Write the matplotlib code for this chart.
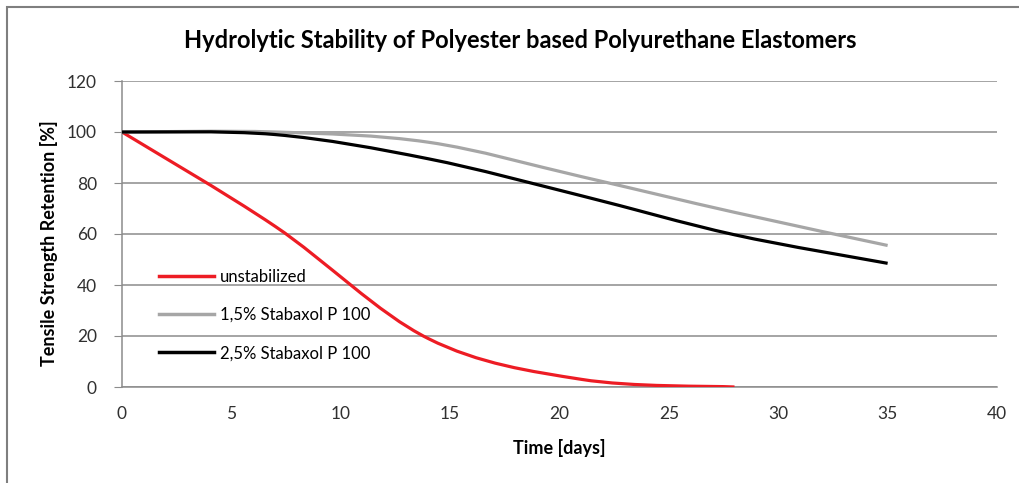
import numpy as np
import matplotlib
matplotlib.use("Agg")
import matplotlib.pyplot as plt
from matplotlib.path import Path
from matplotlib.patches import PathPatch, Rectangle
from matplotlib.lines import Line2D

plt.rcParams['font.family'] = ['Lato', 'DejaVu Sans']

# data
days = [0, 7, 14, 21, 28, 35]
days_red = [0, 7, 14, 21, 28]
unstabilized = [100, 63, 19, 3, 0]
stab_15 = [100, 100, 96, 82.5, 68.5, 55.5]
stab_25 = [100, 99, 89.5, 75, 59.7, 48.5]

labels = ["unstabilized", "1,5% Stabaxol P 100", "2,5% Stabaxol P 100"]
colors = ["#ED1C24", "#A6A6A6", "#000000"]


def smooth_path(x, y):
    # Excel-like smoothed line: cubic bezier through the points
    x = np.asarray(x, float)
    y = np.asarray(y, float)
    n = len(x)
    verts = [(x[0], y[0])]
    codes = [Path.MOVETO]
    for i in range(n - 1):
        p0 = np.array([x[max(i - 1, 0)], y[max(i - 1, 0)]])
        p1 = np.array([x[i], y[i]])
        p2 = np.array([x[i + 1], y[i + 1]])
        p3 = np.array([x[min(i + 2, n - 1)], y[min(i + 2, n - 1)]])
        c1 = p1 + (p2 - p0) / 6.0
        c2 = p2 - (p3 - p1) / 6.0
        verts += [tuple(c1), tuple(c2), tuple(p2)]
        codes += [Path.CURVE4] * 3
    return Path(verts, codes)


fig = plt.figure(figsize=(10.2, 4.83), dpi=100)
ax = fig.add_axes([122 / 1020, 1 - 387 / 483, 875 / 1020, 306 / 483])

series = [(days_red, unstabilized), (days, stab_15), (days, stab_25)]
for (xs, ys), c in zip(series, colors):
    ax.add_patch(PathPatch(smooth_path(xs, ys), facecolor='none', edgecolor=c,
                           lw=2.3, capstyle='butt', zorder=3))

ax.set_xlim(0, 40)
ax.set_ylim(0, 120)
ax.set_xticks(np.arange(0, 41, 5))
ax.set_yticks(np.arange(0, 121, 20))
ax.grid(axis='y', color='#8C8C8C', lw=1.1)
ax.set_axisbelow(True)
for s in ['top', 'right']:
    ax.spines[s].set_visible(False)
for s in ['left', 'bottom']:
    ax.spines[s].set_color('#8C8C8C')
    ax.spines[s].set_linewidth(1.1)
ax.tick_params(axis='y', length=6, color='#8C8C8C', labelsize=12.5, labelcolor='#303030', pad=12)
ax.tick_params(axis='x', length=0, labelsize=12.5, labelcolor='#303030', pad=14)

# chart title centred on the chart area, like Excel does
fig.text(520 / 1020, 1 - 41 / 483,
         "Hydrolytic Stability of Polyester based Polyurethane Elastomers",
         fontsize=17, fontweight='bold', ha='center', va='center')
ax.set_xlabel("Time [days]", fontsize=13, fontweight='bold', labelpad=12)
ax.set_ylabel("Tensile Strength Retention [%]", fontsize=13, fontweight='bold')
ax.yaxis.set_label_coords(-0.073, 0.47)

handles = [Line2D([], [], color=c, lw=2.5) for c in colors]
ax.legend(handles, labels, loc='lower left', bbox_to_anchor=(0.025, 0.035),
          frameon=False, fontsize=12, handlelength=3.3, handletextpad=0.36,
          labelspacing=1.34)

fig.patches.append(Rectangle((7 / 1020, -0.1), 1.2, 1 - 7 / 483 + 0.1,
                             transform=fig.transFigure, fill=False,
                             edgecolor='#7F7F7F', lw=1.5))

fig.savefig("out.png", dpi=100)
